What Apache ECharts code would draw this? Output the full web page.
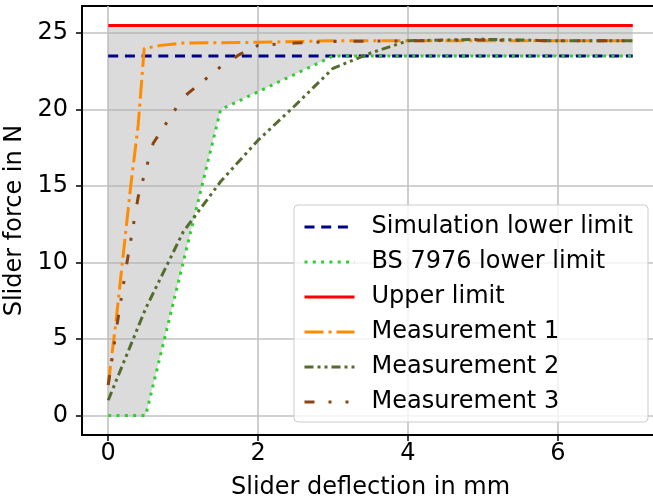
<!DOCTYPE html>
<html>
<head>
<meta charset="utf-8">
<script src="https://cdn.jsdelivr.net/npm/echarts@6/dist/echarts.min.js"></script>
<style>
  html, body { margin: 0; padding: 0; background: #fff; }
  #chart { width: 653px; height: 499px; }
</style>
</head>
<body>
<div id="chart"></div>
<script>
// deflection (mm) / force (N)
const simX = [0, 7];
const simY = [23.5, 23.5];
const bsX = [0, 0.5, 1.5, 3, 7];
const bsY = [0, 0, 20, 23.5, 23.5];
const upperX = [0, 7];
const upperY = [25.5, 25.5];

const m1X = [0, 0.05, 0.1, 0.2, 0.3, 0.4, 0.48, 0.7, 1, 2, 3, 4, 5, 6, 7];
const m1Y = [2, 4, 6, 10.5, 15, 19, 24, 24.2, 24.35, 24.4, 24.5, 24.5, 24.5, 24.5, 24.5];
const m2X = [0, 0.5, 1, 1.5, 2, 2.5, 3, 3.5, 4, 5, 6, 7];
const m2Y = [1, 7, 12, 15.3, 18, 20.3, 22.7, 23.7, 24.5, 24.6, 24.5, 24.5];
const m3X = [0, 0.12, 0.25, 0.4, 0.6, 0.8, 1, 1.3, 1.5, 1.75, 2, 2.5, 3, 4, 5, 6, 7];
const m3Y = [2, 6, 10, 14.3, 17.8, 19.3, 20.8, 22, 22.8, 23.6, 24.2, 24.35, 24.45, 24.5, 24.55, 24.5, 24.5];

const xTicks = [0, 2, 4, 6];
const yTicks = [0, 5, 10, 15, 20, 25];

const zip = (xs, ys) => xs.map((x, i) => [x, ys[i]]);
const FONT = 'DejaVu Sans';

const chart = echarts.init(document.getElementById('chart'), null, { renderer: 'canvas' });

function line(name, xs, ys, color, dash) {
  return {
    name,
    type: 'line',
    data: zip(xs, ys),
    showSymbol: false,
    symbol: 'none',
    lineStyle: { color, width: 3, type: dash, cap: 'butt' },
    itemStyle: { color }
  };
}

// band between the BS 7976 lower limit and the upper limit
const bandPts = zip(upperX, upperY).concat(zip(bsX, bsY).reverse());

chart.setOption({
  backgroundColor: '#fff',
  animation: false,
  textStyle: { fontFamily: FONT },
  grid: {
    left: 82, top: 6, right: -6, bottom: 64,
    outerBoundsMode: 'none',
    containLabel: false,
    show: true, borderColor: '#000', borderWidth: 1.8
  },
  xAxis: {
    type: 'value',
    min: -0.35, max: 7.35,
    name: 'Slider deflection in mm',
    nameLocation: 'middle',
    nameGap: 41,
    nameTextStyle: { fontSize: 24, color: '#000', fontFamily: FONT, lineHeight: 24 },
    axisLine: { onZero: false, lineStyle: { color: '#000', width: 1.8 } },
    axisTick: { customValues: xTicks, length: 6, lineStyle: { color: '#000', width: 1.5 } },
    axisLabel: { customValues: xTicks, margin: 7, fontSize: 24, color: '#000', fontFamily: FONT, lineHeight: 24 },
    splitLine: { lineStyle: { color: '#c2c2c2', width: 1.6 } }
  },
  yAxis: {
    type: 'value',
    min: -1.275, max: 26.775,
    name: 'Slider force in N',
    nameLocation: 'middle',
    nameGap: 47,
    nameTextStyle: { fontSize: 24, color: '#000', fontFamily: FONT, lineHeight: 24 },
    axisLine: { onZero: false, lineStyle: { color: '#000', width: 1.8 } },
    axisTick: { customValues: yTicks, length: 6, lineStyle: { color: '#000', width: 1.5 } },
    axisLabel: { customValues: yTicks, margin: 14, fontSize: 24, color: '#000', fontFamily: FONT },
    splitLine: { lineStyle: { color: '#c2c2c2', width: 1.6 } }
  },
  legend: {
    orient: 'vertical',
    left: 294, top: 205,
    padding: [10, 15, 8, 9],
    itemWidth: 50, itemHeight: 14,
    itemGap: 11,
    itemStyle: { opacity: 0 },
    lineStyle: { width: 3 },
    backgroundColor: 'rgba(255,255,255,0.8)',
    borderColor: '#cccccc', borderWidth: 1, borderRadius: 4,
    textStyle: { fontSize: 24, color: '#000', fontFamily: FONT, lineHeight: 24, padding: [0, 0, 0, 12] },
    data: ['Simulation lower limit', 'BS 7976 lower limit', 'Upper limit',
           'Measurement 1', 'Measurement 2', 'Measurement 3']
  },
  series: [
    {
      name: 'band',
      type: 'custom',
      silent: true,
      z: 1,
      data: [0],
      renderItem: (params, api) => ({
        type: 'polygon',
        shape: { points: bandPts.map(p => api.coord(p)) },
        style: { fill: 'rgba(175,175,175,0.45)' }
      })
    },
    line('Simulation lower limit', simX, simY, '#00008b', [10, 6.7]),
    line('BS 7976 lower limit', bsX, bsY, '#32cd32', [3, 5.3]),
    line('Upper limit', upperX, upperY, '#ff0000', 'solid'),
    line('Measurement 1', m1X, m1Y, '#ff8c00', [19, 5, 3, 5]),
    line('Measurement 2', m2X, m2Y, '#556b2f', [9, 4, 3, 4, 3, 4]),
    line('Measurement 3', m3X, m3Y, '#8b4513', [10, 14, 3, 14, 3, 17])
  ]
});
</script>
</body>
</html>
